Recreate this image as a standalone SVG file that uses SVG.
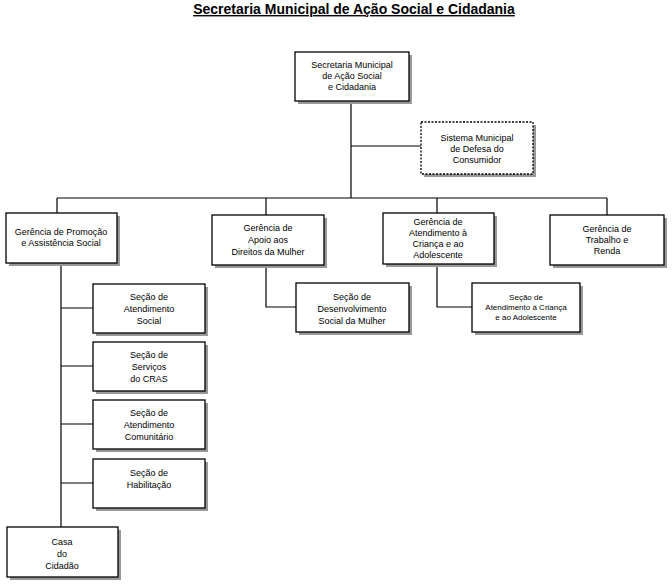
<svg xmlns="http://www.w3.org/2000/svg" width="672" height="588" viewBox="0 0 672 588">
<defs><style>
.b{fill:#fff;stroke:#000;stroke-width:1.3}
.s{fill:#999}
.d{stroke-dasharray:2,1.5}
text{font-family:"Liberation Sans",Arial,sans-serif;font-size:9px;text-anchor:middle;fill:#000}
.c{stroke:#000;stroke-width:1.2;fill:none}
</style></defs>
<rect width="672" height="588" fill="#fff"/>
<text x="354" y="14" style="font-size:14px;font-weight:bold;text-decoration:underline">Secretaria Municipal de Ação Social e Cidadania</text>
<g id="connectors" class="c">
<path d="M351 101V198M351 146H421M57 198H607M57 198V213M266 198V215M437 198V213M607 198V215M61 263V527M61 308H93M61 366H93M61 424H93M61 483H93M266 265V307H296M437 264V307H472"/>
</g>
<g id="n1"><rect class="s" x="298" y="55" width="114" height="49"/><rect class="b" x="295" y="52" width="114" height="49"/><text x="352" y="68">Secretaria Municipal</text><text x="352" y="79">de Ação Social</text><text x="352" y="90">e Cidadania</text></g>
<g id="n2"><rect class="s" x="424" y="125" width="112" height="52"/><rect class="b d" x="421" y="122" width="112" height="52"/><text x="477" y="141">Sistema Municipal</text><text x="477" y="152">de Defesa do</text><text x="477" y="163">Consumidor</text></g>
<g id="n3"><rect class="s" x="9" y="216" width="111" height="50"/><rect class="b" x="6" y="213" width="111" height="50"/><text x="61" y="235">Gerência de Promoção</text><text x="61" y="246">e Assistência Social</text></g>
<g id="n4"><rect class="s" x="215" y="218" width="112" height="50"/><rect class="b" x="212" y="215" width="112" height="50"/><text x="268" y="231">Gerência  de</text><text x="268" y="243">Apoio aos</text><text x="268" y="255">Direitos da Mulher</text></g>
<g id="n5"><rect class="s" x="386" y="216" width="111" height="51"/><rect class="b" x="383" y="213" width="111" height="51"/><text x="438" y="225">Gerência de</text><text x="438" y="236">Atendimento à</text><text x="438" y="247">Criança e ao</text><text x="438" y="258">Adolescente</text></g>
<g id="n6"><rect class="s" x="553" y="218" width="114" height="50"/><rect class="b" x="550" y="215" width="114" height="50"/><text x="607" y="232">Gerência de</text><text x="607" y="243">Trabalho e</text><text x="607" y="254">Renda</text></g>
<g id="n7"><rect class="s" x="96" y="287" width="112" height="49"/><rect class="b" x="93" y="284" width="112" height="49"/><text x="149" y="300">Seção de</text><text x="149" y="312">Atendimento</text><text x="149" y="324">Social</text></g>
<g id="n8"><rect class="s" x="96" y="345" width="112" height="49"/><rect class="b" x="93" y="342" width="112" height="49"/><text x="149" y="358">Seção de</text><text x="149" y="370">Serviços</text><text x="149" y="382">do CRAS</text></g>
<g id="n9"><rect class="s" x="96" y="403" width="112" height="49"/><rect class="b" x="93" y="400" width="112" height="49"/><text x="149" y="416">Seção de</text><text x="149" y="428">Atendimento</text><text x="149" y="440">Comunitário</text></g>
<g id="n10"><rect class="s" x="96" y="462" width="112" height="49"/><rect class="b" x="93" y="459" width="112" height="49"/><text x="149" y="476">Seção de</text><text x="149" y="488">Habilitação</text></g>
<g id="n11"><rect class="s" x="10" y="530" width="111" height="50"/><rect class="b" x="7" y="527" width="111" height="50"/><text x="62" y="545">Casa</text><text x="62" y="557">do</text><text x="62" y="569">Cidadão</text></g>
<g id="n12"><rect class="s" x="299" y="286" width="113" height="49"/><rect class="b" x="296" y="283" width="113" height="49"/><text x="352" y="300">Seção de</text><text x="352" y="312">Desenvolvimento</text><text x="352" y="324">Social da Mulher</text></g>
<g id="n13"><rect class="s" x="475" y="286" width="108" height="49"/><rect class="b" x="472" y="283" width="108" height="49"/><text x="526" y="300" style="font-size:8px">Seção de</text><text x="526" y="310" style="font-size:8px">Atendimento à Criança</text><text x="526" y="320" style="font-size:8px">e ao Adolescente</text></g>
</svg>
